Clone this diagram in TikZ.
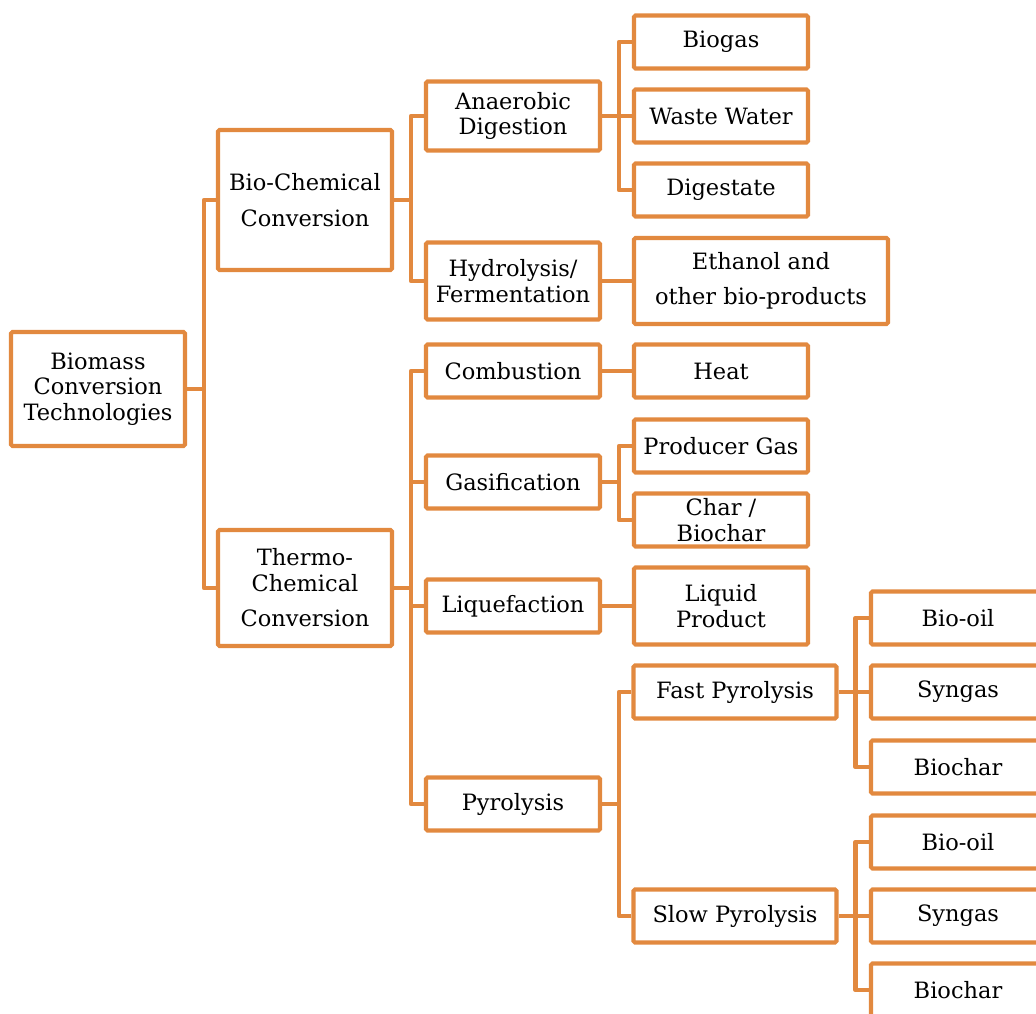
\documentclass[tikz,border=0pt]{standalone}
\usepackage{fontspec}
\setmainfont{DejaVu Serif}
\usepackage{xcolor}
\definecolor{boxedge}{HTML}{E2893F}
\usepackage{tikz}
\usetikzlibrary{positioning, calc}

\begin{document}
\begin{tikzpicture}[
  x=1pt, y=-1pt,
  font=\fontsize{22.5}{25.5}\selectfont,
  box/.style={
    draw=boxedge, line width=4.2pt, rounded corners=1.5pt, fill=white,
    minimum width=174pt, minimum height=53pt, align=center, inner sep=2pt
  },
  link/.style={draw=boxedge, line width=4.5pt, line join=round}
]
  \clip (0,0) rectangle (1036,1013);

  % root and the two routes
  \node[box, minimum height=114pt] (bm) at (98,389)
    {Biomass\\Conversion\\Technologies};
  \node[box, minimum height=140pt] (bc) at (305,200)
    {Bio-Chemical\\[10pt]Conversion};
  \node[box, minimum height=116pt] (tc) at (305,588)
    {Thermo-\\Chemical\\[10pt]Conversion};

  % bio-chemical side
  \node[box, minimum height=69pt] (ad) at (513,116) {Anaerobic\\Digestion};
  \node[box, minimum height=77pt] (hy) at (513,281) {Hydrolysis/\\Fermentation};
  \node[box] (bg) at (721,42) {Biogas};
  \node[box] (ww) at (721,116) {Waste Water};
  \node[box] (dg) at (721,190) {Digestate};
  \node[box, minimum width=254pt, minimum height=86pt] (et) at (761,281)
    {Ethanol and\\[9pt]other bio-products};

  % thermo-chemical side
  \node[box] (cb) at (513,371) {Combustion};
  \node[box] (gs) at (513,482) {Gasification};
  \node[box] (lq) at (513,606) {Liquefaction};
  \node[box] (py) at (513,804) {Pyrolysis};
  \node[box] (ht) at (721,371) {Heat};
  \node[box] (pg) at (721,446) {Producer Gas};
  \node[box] (ch) at (721,520) {Char /\\Biochar};
  \node[box, minimum height=77pt] (lp) at (721,606) {Liquid\\Product};
  \node[box, minimum width=203pt] (fp) at (735,692) {Fast Pyrolysis};
  \node[box, minimum width=203pt] (sp) at (735,916) {Slow Pyrolysis};

  % pyrolysis products
  \node[box] (oa) at (958,618) {Bio-oil};
  \node[box] (ga) at (958,692) {Syngas};
  \node[box] (ca) at (958,767) {Biochar};
  \node[box] (ob) at (958,842) {Bio-oil};
  \node[box] (gb) at (958,916) {Syngas};
  \node[box] (cc) at (958,990) {Biochar};

  % connectors
  \draw[link] (bm.east) -- ++(17,0) coordinate (j0);
  \draw[link] (bc.west) -| (j0);
  \draw[link] (tc.west) -| (j0);

  \draw[link] (bc.east) -- ++(17,0) coordinate (j1);
  \draw[link] (ad.west) -| (j1);
  \draw[link] (hy.west) -| (j1);
  \draw[link] (ad.east) -- ++(17,0) coordinate (j2);
  \draw[link] (bg.west) -| (j2);
  \draw[link] (ww.west) -- (j2);
  \draw[link] (dg.west) -| (j2);
  \draw[link] (hy.east) -- (et.west);

  \draw[link] (tc.east) -- ++(17,0) coordinate (j3);
  \draw[link] (cb.west) -| (j3);
  \draw[link] (gs.west) -| (j3);
  \draw[link] (lq.west) -| (j3);
  \draw[link] (py.west) -| (j3);
  \draw[link] (cb.east) -- (ht.west);
  \draw[link] (gs.east) -- ++(17,0) coordinate (j4);
  \draw[link] (pg.west) -| (j4);
  \draw[link] (ch.west) -| (j4);
  \draw[link] (lq.east) -- (lp.west);
  \draw[link] (py.east) -- ++(17,0) coordinate (j5);
  \draw[link] (fp.west) -| (j5);
  \draw[link] (sp.west) -| (j5);

  \draw[link] (fp.east) -- ++(17,0) coordinate (j6);
  \draw[link] (oa.west) -| (j6);
  \draw[link] (ga.west) -- (j6);
  \draw[link] (ca.west) -| (j6);
  \draw[link] (sp.east) -- ++(17,0) coordinate (j7);
  \draw[link] (ob.west) -| (j7);
  \draw[link] (gb.west) -- (j7);
  \draw[link] (cc.west) -| (j7);
\end{tikzpicture}
\end{document}
